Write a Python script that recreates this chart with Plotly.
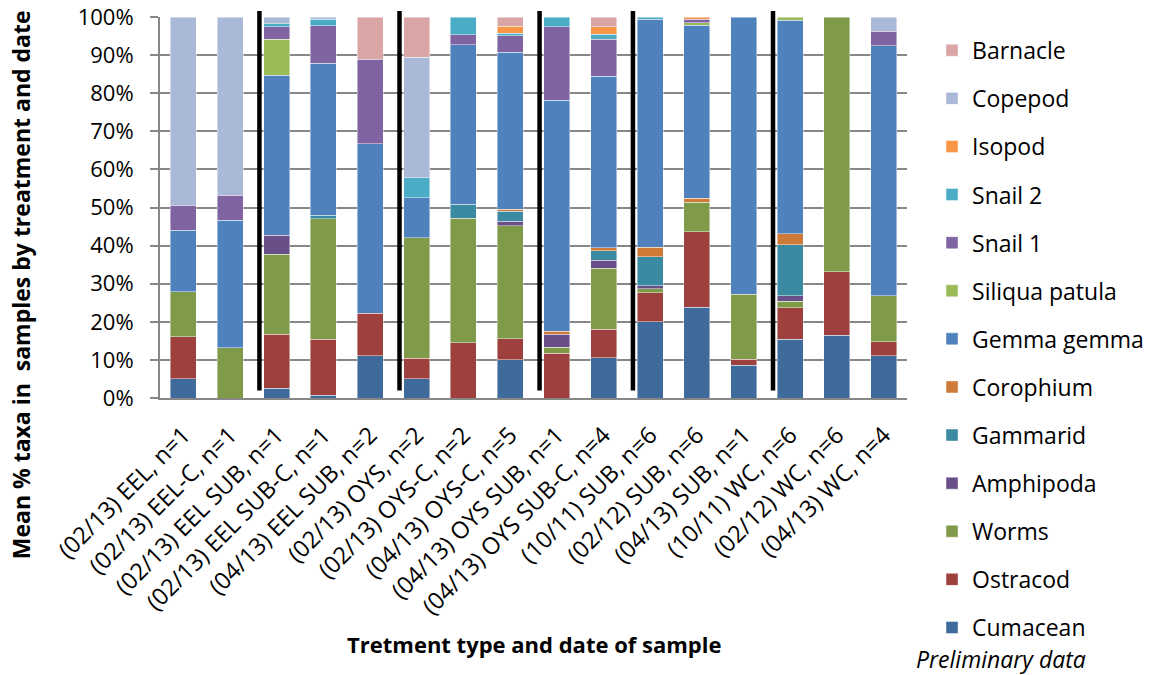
import plotly.graph_objects as go

# Sample groups (treatment, date, number of samples)
categories = [
    "(02/13) EEL, n=1",
    "(02/13) EEL-C, n=1",
    "(02/13) EEL SUB, n=1",
    "(02/13) EEL SUB-C, n=1",
    "(04/13) EEL SUB, n=2",
    "(02/13) OYS, n=2",
    "(02/13) OYS-C, n=2",
    "(04/13) OYS-C, n=5",
    "(04/13) OYS SUB, n=1",
    "(04/13) OYS SUB-C, n=4",
    "(10/11) SUB, n=6",
    "(02/12) SUB, n=6",
    "(04/13) SUB, n=1",
    "(10/11) WC, n=6",
    "(02/12) WC, n=6",
    "(04/13) WC, n=4",
]

# Mean % of each taxon per group (stacked bottom to top)
cumacean   = [5.1, 0, 2.5, 0.7, 11.1, 5.1, 0, 10.1, 0, 10.6, 20.0, 23.8, 8.6, 15.4, 16.5, 11.1]
ostracod   = [11.0, 0, 14.2, 14.7, 11.1, 5.3, 14.5, 5.5, 11.7, 7.4, 7.6, 19.9, 1.6, 8.3, 16.7, 3.6]
worms      = [11.8, 13.2, 21.0, 31.7, 0, 31.6, 32.7, 29.6, 1.6, 16.0, 1.1, 7.7, 17.0, 1.7, 66.8, 12.2]
amphipoda  = [0, 0, 5.0, 0, 0, 0, 0, 1.2, 3.4, 2.1, 0.7, 0, 0, 1.4, 0, 0]
gammarid   = [0, 0, 0, 0.9, 0, 0, 3.7, 2.6, 0, 2.6, 7.7, 0, 0, 13.4, 0, 0]
corophium  = [0, 0, 0, 0, 0, 0, 0, 0.6, 0.8, 0.8, 2.5, 1.0, 0, 2.9, 0, 0]
gemma      = [16.1, 33.5, 42.0, 39.8, 44.5, 10.6, 41.8, 41.2, 60.7, 45.0, 59.8, 45.5, 72.8, 56.0, 0, 65.6]
siliqua    = [0, 0, 9.4, 0, 0, 0, 0, 0, 0, 0, 0, 0.6, 0, 0.9, 0, 0]
snail1     = [6.6, 6.5, 3.3, 9.9, 22.2, 0, 2.7, 4.3, 19.3, 9.7, 0, 0.9, 0, 0, 0, 3.7]
snail2     = [0, 0, 0.8, 1.7, 0, 5.2, 4.6, 0.7, 2.5, 1.3, 0.6, 0, 0, 0, 0, 0]
isopod     = [0, 0, 0, 0, 0, 0, 0, 1.8, 0, 2.0, 0, 0.6, 0, 0, 0, 0]
copepod    = [49.4, 46.8, 1.8, 0.6, 0, 31.7, 0, 0, 0, 0, 0, 0, 0, 0, 0, 3.8]
barnacle   = [0, 0, 0, 0, 11.1, 10.5, 0, 2.4, 0, 2.5, 0, 0, 0, 0, 0, 0]

# Y axis ticks
y_tick_values = [0, 10, 20, 30, 40, 50, 60, 70, 80, 90, 100]
y_tick_labels = ["0%", "10%", "20%", "30%", "40%", "50%", "60%", "70%", "80%", "90%", "100%"]

taxa = [
    ("Cumacean", cumacean, "#3F6A9C"),
    ("Ostracod", ostracod, "#9E403D"),
    ("Worms", worms, "#7F9A48"),
    ("Amphipoda", amphipoda, "#684F87"),
    ("Gammarid", gammarid, "#3A8BA2"),
    ("Corophium", corophium, "#CF7A37"),
    ("Gemma gemma", gemma, "#4F81BD"),
    ("Siliqua patula", siliqua, "#9BBB59"),
    ("Snail 1", snail1, "#8064A2"),
    ("Snail 2", snail2, "#4BACC6"),
    ("Isopod", isopod, "#F79646"),
    ("Copepod", copepod, "#AAB9D7"),
    ("Barnacle", barnacle, "#D9A6A5"),
]

# Separators are drawn before these bar positions (start of a new treatment block)
block_starts = [2, 5, 8, 10, 13]
separator_shift = 0.13

FONT = "Open Sans"

fig = go.Figure()
n_taxa = len(taxa)
for i, (name, vals, color) in enumerate(taxa):
    fig.add_trace(go.Bar(
        name=name,
        x=categories,
        y=[v if v else None for v in vals],
        marker=dict(color=color, line=dict(color="rgba(255,255,255,0.55)", width=0.8)),
        legendgroup=name,
        legendrank=n_taxa - i,
    ))

for b in block_starts:
    xpos = b - 0.5 + separator_shift
    fig.add_shape(type="line", xref="x", yref="paper",
                  x0=xpos, x1=xpos, y0=0.02, y1=1.016,
                  line=dict(color="black", width=4.5))

fig.update_layout(
    barmode="stack",
    bargap=0.443,
    width=1153,
    height=675,
    margin=dict(l=160, r=246, t=17, b=277, autoexpand=False),
    plot_bgcolor="white",
    paper_bgcolor="white",
    font=dict(family=FONT, color="black"),
    legend=dict(
        traceorder="grouped",
        tracegroupgap=15.2,
        font=dict(family=FONT, size=23, color="black"),
        x=1.0335, xanchor="left",
        y=0.969, yanchor="top",
        maxheight=2000,
        bgcolor="rgba(0,0,0,0)",
    ),
    xaxis=dict(
        type="category",
        automargin=False,
        tickangle=-45,
        tickfont=dict(family=FONT, size=23.5, color="black"),
        showline=True, linecolor="#878787", linewidth=2,
        showgrid=False, ticks="",
        ticklabelstandoff=12,
    ),
    yaxis=dict(
        automargin=False,
        range=[0, 100],
        tickmode="array",
        tickvals=y_tick_values,
        ticktext=y_tick_labels,
        tickfont=dict(family=FONT, size=22, color="black"),
        showgrid=True, gridcolor="#878787", gridwidth=2,
        showline=True, linecolor="#878787", linewidth=2,
        ticks="outside", ticklen=8, tickcolor="#878787", tickwidth=2,
        ticklabelstandoff=12,
        zeroline=False,
    ),
    annotations=[
        dict(text="Mean % taxa in\u00a0 samples by treatment and date",
             textangle=-90, xref="paper", yref="paper",
             x=-0.186, y=0.296, xanchor="center", yanchor="middle",
             showarrow=False,
             font=dict(family=FONT, size=23, color="black", weight="bold")),
        dict(text="Tretment type and date of sample",
             xref="paper", yref="paper", x=0.5, y=-0.645,
             xanchor="center", yanchor="middle", showarrow=False,
             font=dict(family=FONT, size=22, color="black", weight="bold")),
        dict(text="<i>Preliminary data</i>",
             xref="paper", yref="paper", x=1.126, y=-0.684,
             xanchor="center", yanchor="middle", showarrow=False,
             font=dict(family=FONT, size=23, color="black")),
    ],
)

fig.write_html("out.html")
